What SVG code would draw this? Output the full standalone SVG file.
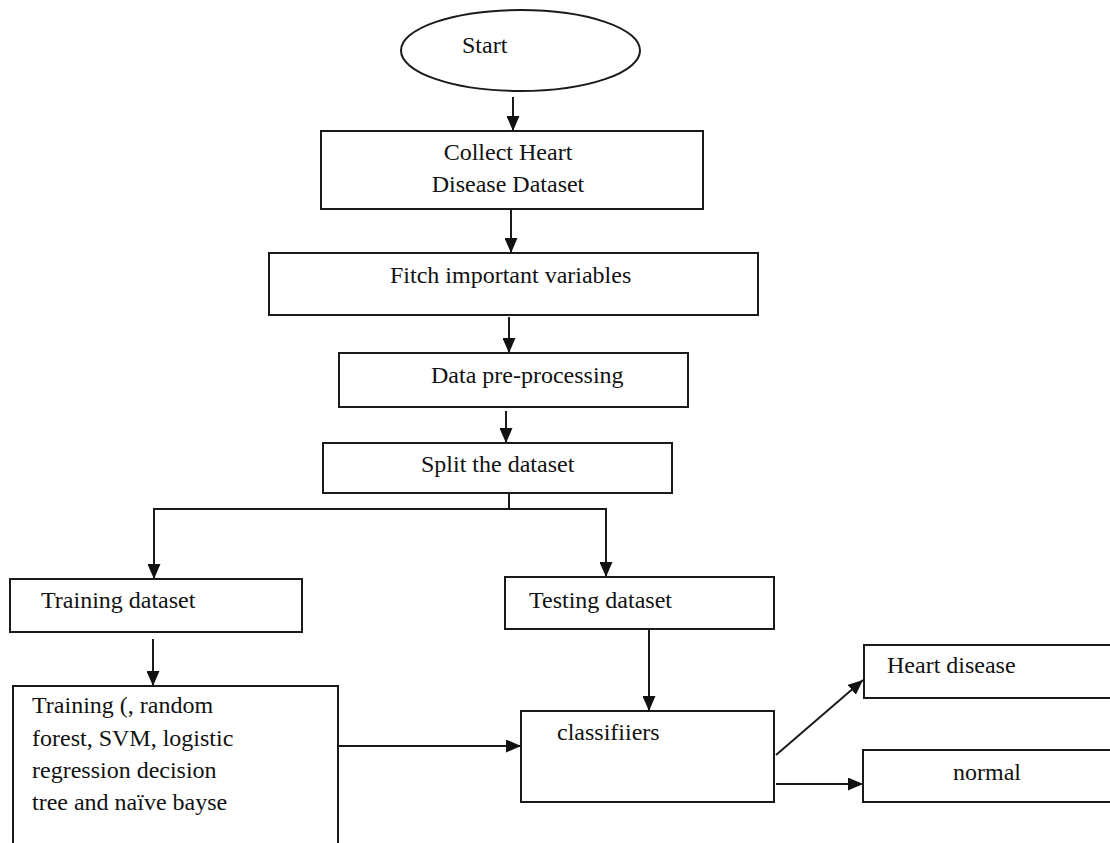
<svg xmlns="http://www.w3.org/2000/svg" width="1110" height="843" viewBox="0 0 1110 843">
<style>
.box{fill:#fff;stroke:#1a1a1a;stroke-width:2}
.t{font-family:"Liberation Serif","Times New Roman",serif;font-size:24px;fill:#111}
.c{text-anchor:middle}
.ln{fill:none;stroke:#1a1a1a;stroke-width:2}
</style>
<defs>
<marker id="ah" markerUnits="userSpaceOnUse" viewBox="0 0 15 13" refX="15" refY="6.5" markerWidth="15" markerHeight="13" orient="auto">
<path d="M0,0 L15,6.5 L0,13 z" fill="#111"/>
</marker>
</defs>
<rect width="1110" height="843" fill="#fff"/>
<g id="start">
<ellipse class="box" cx="520.5" cy="50.5" rx="119.5" ry="40.5"/>
<text class="t" x="462" y="53">Start</text>
</g>
<g id="collect">
<rect class="box" x="321" y="131" width="382" height="78"/>
<text class="t c" x="508" y="160">Collect Heart</text>
<text class="t c" x="508" y="192">Disease Dataset</text>
</g>
<g id="fitch">
<rect class="box" x="269" y="253" width="489" height="62"/>
<text class="t" x="390" y="283">Fitch important variables</text>
</g>
<g id="preprocess">
<rect class="box" x="339" y="353" width="349" height="54"/>
<text class="t" x="431" y="383">Data pre-processing</text>
</g>
<g id="split">
<rect class="box" x="323" y="443" width="349" height="50"/>
<text class="t" x="421" y="472">Split the dataset</text>
</g>
<g id="training-dataset">
<rect class="box" x="10" y="579" width="292" height="53"/>
<text class="t" x="41" y="608">Training dataset</text>
</g>
<g id="testing-dataset">
<rect class="box" x="505" y="577" width="269" height="52"/>
<text class="t" x="529" y="608">Testing dataset</text>
</g>
<g id="training">
<rect class="box" x="13" y="686" width="325" height="170"/>
<text class="t" x="32" y="713">Training (, random</text>
<text class="t" x="32" y="746">forest, SVM, logistic</text>
<text class="t" x="32" y="778">regression decision</text>
<text class="t" x="32" y="810">tree and naïve bayse</text>
</g>
<g id="classifiers">
<rect class="box" x="521" y="711" width="253" height="91"/>
<text class="t" x="557" y="740">classifiiers</text>
</g>
<g id="heart-disease">
<rect class="box" x="864" y="645" width="260" height="53"/>
<text class="t" x="887" y="673">Heart disease</text>
</g>
<g id="normal">
<rect class="box" x="863" y="750" width="260" height="52"/>
<text class="t" x="953" y="780">normal</text>
</g>
<g id="connectors">
<line class="ln" x1="513" y1="97" x2="513" y2="131" marker-end="url(#ah)"/>
<line class="ln" x1="511" y1="209" x2="511" y2="253" marker-end="url(#ah)"/>
<line class="ln" x1="509" y1="317" x2="509" y2="353" marker-end="url(#ah)"/>
<line class="ln" x1="506" y1="411" x2="506" y2="443" marker-end="url(#ah)"/>
<line class="ln" x1="509" y1="493" x2="509" y2="509"/>
<line class="ln" x1="153" y1="509" x2="607" y2="509"/>
<line class="ln" x1="154" y1="509" x2="154" y2="579" marker-end="url(#ah)"/>
<line class="ln" x1="606" y1="509" x2="606" y2="577" marker-end="url(#ah)"/>
<line class="ln" x1="153" y1="639" x2="153" y2="686" marker-end="url(#ah)"/>
<line class="ln" x1="649" y1="629" x2="649" y2="711" marker-end="url(#ah)"/>
<line class="ln" x1="338" y1="746" x2="521" y2="746" marker-end="url(#ah)"/>
<line class="ln" x1="776" y1="755" x2="863" y2="680" marker-end="url(#ah)"/>
<line class="ln" x1="776" y1="784" x2="863" y2="784" marker-end="url(#ah)"/>
</g>
</svg>
